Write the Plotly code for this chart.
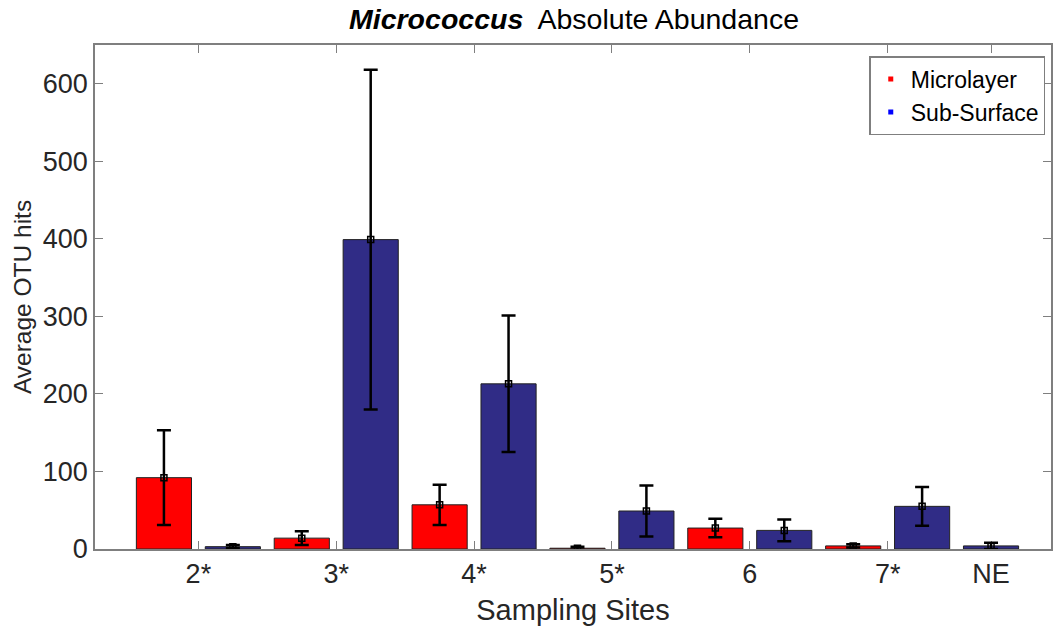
import plotly.graph_objects as go

# Sampling sites and mean OTU hits (Microlayer vs Sub-Surface)
sites = ["2*", "3*", "4*", "5*", "6", "7*", "NE"]
micro_mean = [92, 14, 57, 1, 27, 4]
micro_err = [61, 9, 26, 2, 12, 2]
sub_mean = [3, 399, 213, 49, 24, 55, 4]
sub_err = [2, 219, 88, 33, 14, 25, 4]

RED = "#ff0000"
NAVY = "#302c86"
FONT = "Liberation Sans, Arial, sans-serif"
TXT = "#262626"
AX = "#7f7f7f"

# each site holds a Microlayer/Sub-Surface pair; NE has only Sub-Surface
micro_x = [2 * i + 1 for i in range(len(micro_mean))]
sub_x = [2 * i + 2 for i in range(len(micro_mean))] + [2 * len(micro_mean) + 1]
tick_x = [2 * i + 1.5 for i in range(len(micro_mean))] + [sub_x[-1]]

fig = go.Figure()

for xs, ys, es, col in [(micro_x, micro_mean, micro_err, RED),
                        (sub_x, sub_mean, sub_err, NAVY)]:
    fig.add_trace(go.Bar(
        x=xs, y=ys, width=0.8,
        marker=dict(color=col, line=dict(color="#222222", width=1)),
        error_y=dict(type="data", array=es, visible=True,
                     color="black", thickness=2.5, width=7),
        showlegend=False, hoverinfo="skip",
    ))
    fig.add_trace(go.Scatter(
        x=xs, y=ys, mode="markers",
        marker=dict(symbol="square-open", size=6, color="black",
                    line=dict(width=1.5, color="black")),
        showlegend=False, hoverinfo="skip",
    ))

# legend keys: small square markers
for name, col in [("Microlayer", RED), ("Sub-Surface", "#0000ff")]:
    fig.add_trace(go.Scatter(
        x=[None], y=[None], mode="markers", name=name,
        marker=dict(symbol="square", size=5, color=col),
    ))

fig.update_layout(
    width=1055, height=630,
    margin=dict(l=95, r=2, t=45, b=81),
    paper_bgcolor="white", plot_bgcolor="white",
    font=dict(family=FONT, color=TXT, size=27),
    title=dict(
        text="<b><i>Micrococcus</i></b>  Absolute Abundance",
        x=(95 + 1053) / 2 / 1055, xanchor="center",
        y=1 - 19 / 630, yanchor="middle",
        font=dict(size=28.5, color="black"),
    ),
    barmode="overlay",
    legend=dict(
        x=0.994, xanchor="right", y=0.978, yanchor="top",
        bgcolor="white", bordercolor=AX, borderwidth=1.5,
        font=dict(size=23, color="black"),
        itemwidth=30, tracegroupgap=0,
    ),
)

fig.update_xaxes(
    range=[0, 13.87],
    tickmode="array", tickvals=tick_x, ticktext=sites,
    ticks="inside", ticklen=8, tickcolor=AX, tickwidth=1,
    showline=True, linecolor=AX, linewidth=1.5, mirror="ticks",
    showgrid=False, zeroline=False, layer="below traces",
    tickfont=dict(size=27, color=TXT),
    title=dict(text="Sampling Sites", font=dict(size=29, color=TXT), standoff=12),
)
fig.update_yaxes(
    range=[0, 650],
    tickmode="array", tickvals=[0, 100, 200, 300, 400, 500, 600],
    ticks="inside", ticklen=8, tickcolor=AX, tickwidth=1,
    showline=True, linecolor=AX, linewidth=1.5, mirror="ticks",
    showgrid=False, zeroline=False, layer="below traces",
    tickfont=dict(size=27, color=TXT),
    title=dict(text="Average OTU hits", font=dict(size=24.5, color=TXT), standoff=4),
)

fig.write_html("out.html")
